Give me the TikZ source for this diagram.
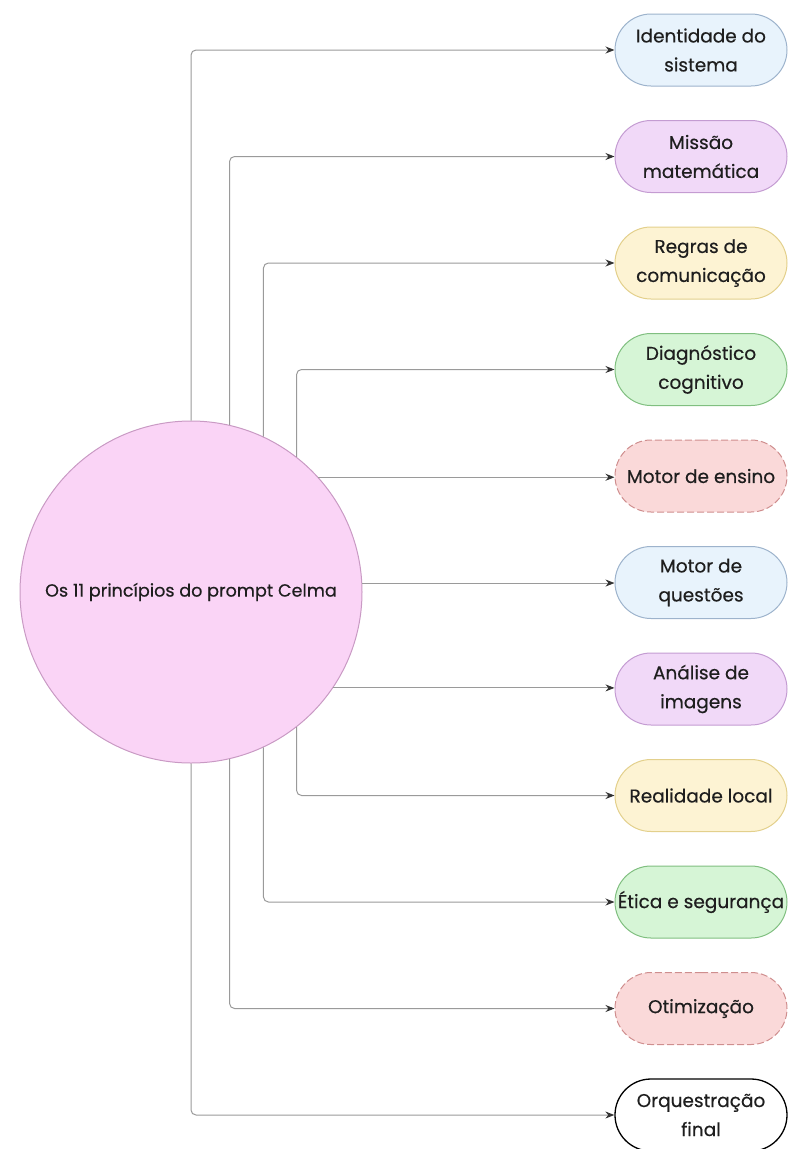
\documentclass[tikz,border=0pt]{standalone}
\usepackage{fontspec}
\setmainfont{Poppins}[FakeBold=0.4]
\usepackage{tikz}
\usetikzlibrary{calc,shapes,arrows.meta,backgrounds}
\definecolor{texto}{HTML}{1E1E1E}
\definecolor{linha}{HTML}{9A9A9A}
\definecolor{ponta}{HTML}{333333}
\definecolor{rosa}{HTML}{FAD4F6}
\definecolor{rosaborda}{HTML}{C99AC4}
\definecolor{azul}{HTML}{E8F3FC}
\definecolor{azulborda}{HTML}{9DB3CC}
\definecolor{roxo}{HTML}{F1D9F8}
\definecolor{roxoborda}{HTML}{C49CD2}
\definecolor{amarelo}{HTML}{FDF3D3}
\definecolor{amareloborda}{HTML}{E3D08C}
\definecolor{verde}{HTML}{D6F5D6}
\definecolor{verdeborda}{HTML}{80BF80}
\definecolor{vermelho}{HTML}{FAD9D9}
\definecolor{vermelhoborda}{HTML}{CF8E8E}
\tikzset{
  principio/.style={rounded rectangle,draw,line width=1pt,minimum width=172pt,minimum height=72pt,
    inner sep=0pt,align=center,text=texto,font=\fontsize{18.5}{29}\selectfont},
  pazul/.style={principio,fill=azul,draw=azulborda},
  proxo/.style={principio,fill=roxo,draw=roxoborda},
  pamarelo/.style={principio,fill=amarelo,draw=amareloborda},
  pverde/.style={principio,fill=verde,draw=verdeborda},
  pvermelho/.style={principio,fill=vermelho,draw=vermelhoborda,dash pattern=on 7pt off 3pt},
  pbranco/.style={principio,fill=white,draw=black,line width=1.3pt},
  ligacao/.style={draw=linha,line width=1pt,rounded corners=5pt,-{Stealth[length=9pt,width=7pt,color=ponta]}}
}

\begin{document}
\begin{tikzpicture}[x=1pt,y=-1pt]
    \useasboundingbox (0,0) rectangle (788,1149);

    \node (celma) at (191,592) [circle,fill=rosa,draw=rosaborda,line width=1pt,minimum size=342pt,
      inner sep=0pt,text=texto,font=\fontsize{17.6}{22}\selectfont]{Os 11 princípios do prompt Celma};

    \node (identidade) at (701,50) [pazul]{Identidade do\\sistema};
    \node (missao) at (701,156.5) [proxo]{Missão\\matemática};
    \node (regras) at (701,263) [pamarelo]{Regras de\\comunicação};
    \node (diagnostico) at (701,369.5) [pverde]{Diagnóstico\\cognitivo};
    \node (ensino) at (701,476) [pvermelho]{Motor de ensino};
    \node (questoes) at (701,582.5) [pazul]{Motor de\\questões};
    \node (analise) at (701,689) [proxo]{Análise de\\imagens};
    \node (realidade) at (701,795.5) [pamarelo]{Realidade local};
    \node (etica) at (701,902) [pverde]{Ética e segurança};
    \node (otimizacao) at (701,1008.5) [pvermelho]{Otimização};
    \node (orquestracao) at (701,1115) [pbranco]{Orquestração\\final};

    \draw[ligacao] (celma.90) |- (identidade);
    \draw[ligacao] (celma.77.5) |- (missao);
    \draw[ligacao] (celma.65) |- (regras);
    \draw[ligacao] (celma.52.5) |- (diagnostico);
    \draw[ligacao] (celma.42.7) -- (celma.42.7 -| ensino.west);
    \draw[ligacao] (celma.3) -- (celma.3 -| questoes.west);
    \draw[ligacao] (celma.-34.6) -- (celma.-34.6 -| analise.west);
    \draw[ligacao] (celma.-52.5) |- (realidade);
    \draw[ligacao] (celma.-65) |- (etica);
    \draw[ligacao] (celma.-77.5) |- (otimizacao);
    \draw[ligacao] (celma.-90) |- (orquestracao);
  \end{tikzpicture}
\end{document}
